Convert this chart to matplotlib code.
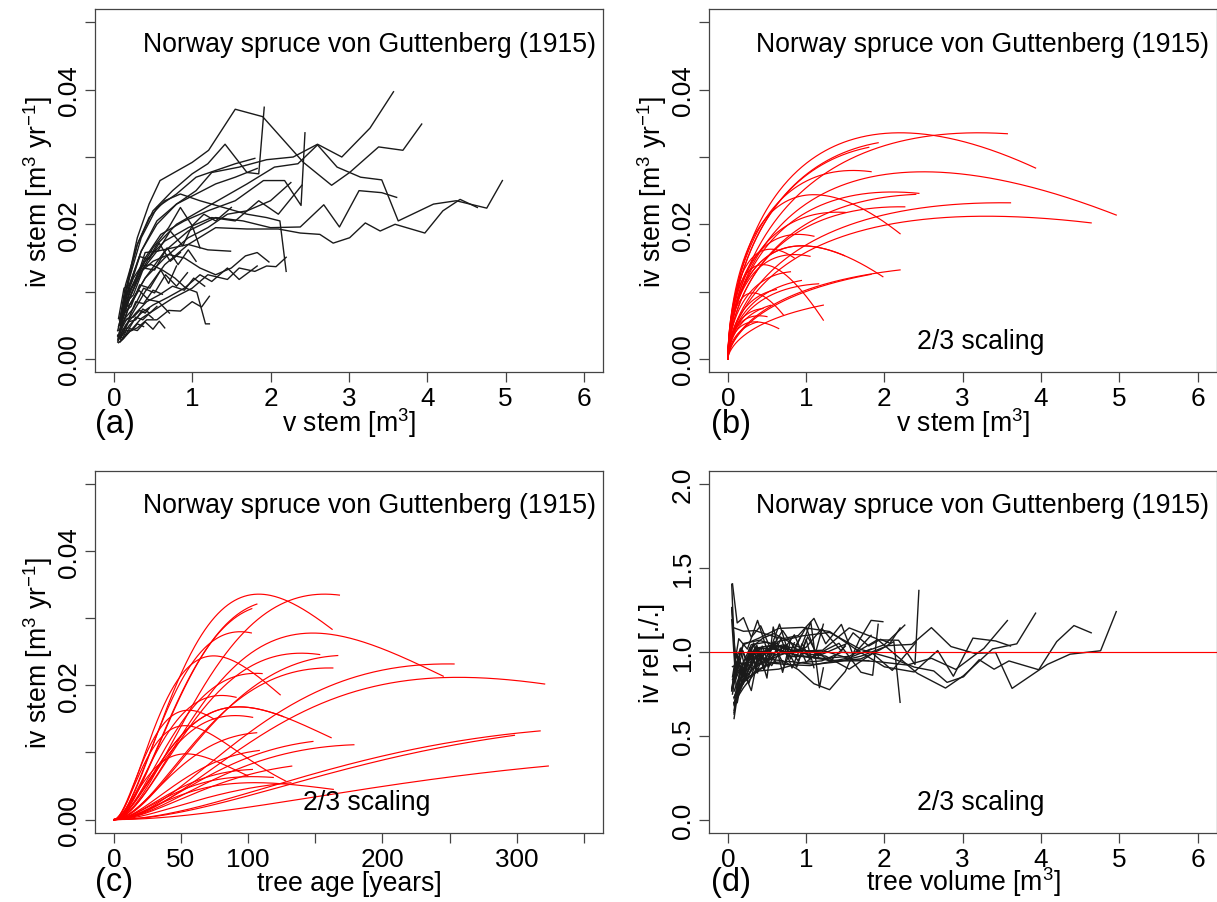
import numpy as np
import matplotlib
matplotlib.use("Agg")
import matplotlib.pyplot as plt

plt.rcParams['font.family'] = ['Liberation Sans', 'DejaVu Sans']
plt.rcParams['mathtext.fontset'] = 'custom'
plt.rcParams['mathtext.rm'] = 'Liberation Sans'
plt.rcParams['mathtext.it'] = 'Liberation Sans'

# observed stem volume [m3] and volume increment [m3/yr] per tree (panel a)
vol_obs = [
    [0.08, 0.2, 0.35, 0.55, 0.8, 1.05, 1.25, 1.6, 1.95, 2.29, 2.6, 2.91, 3.27, 3.57],
    [0.08, 0.15, 0.3, 0.45, 0.59, 1.0, 1.21, 1.55, 1.9, 2.42, 2.78, 3.01, 3.38, 3.69, 3.93],
    [0.08, 0.15, 0.3, 0.5, 0.75, 1.0, 1.2, 1.42, 1.7, 1.85, 1.92],
    [0.08, 0.2, 0.35, 0.55, 0.8, 1.05, 1.3, 1.55, 1.8],
    [0.08, 0.2, 0.35, 0.55, 0.8, 1.05, 1.3, 1.55, 1.83],
    [0.08, 0.2, 0.35, 0.55, 0.8, 1.1, 1.4, 1.7, 2.05, 2.35, 2.6, 2.85, 3.15, 3.42, 3.63, 4.08, 4.37, 4.76, 4.96],
    [0.08, 0.2, 0.4, 0.6, 0.9, 1.2, 1.55, 1.91, 2.18, 2.39, 2.44],
    [0.08, 0.2, 0.4, 0.65, 0.95, 1.25, 1.55, 1.85, 2.1, 2.4],
    [0.08, 0.2, 0.4, 0.65, 0.95, 1.3, 1.65, 2.0, 2.38, 2.68, 2.88, 3.13, 3.42, 3.61],
    [0.08, 0.2, 0.4, 0.65, 0.95, 1.2, 1.45, 1.7, 2.0, 2.26],
    [0.08, 0.2, 0.4, 0.65, 0.95, 1.3, 1.7, 2.1, 2.38, 2.63, 2.8, 3.01, 3.21, 3.4, 3.59, 3.97, 4.2, 4.42, 4.64],
    [0.08, 0.15, 0.3, 0.45, 0.65, 0.85, 1.1, 1.4, 1.7, 1.95, 2.12, 2.2],
    [0.08, 0.2, 0.35, 0.55, 0.75, 0.95, 1.2, 1.49],
    [0.08, 0.2, 0.35, 0.5, 0.7, 0.9, 1.1, 1.3, 1.5, 1.68, 1.83, 1.98],
    [0.08, 0.2, 0.35, 0.55, 0.75, 1.0, 1.2, 1.45, 1.6, 1.8, 1.95, 2.07, 2.2],
    [0.08, 0.2, 0.35, 0.5, 0.7, 0.9, 1.1, 1.25, 1.45, 1.6, 1.83],
    [0.08, 0.15, 0.25, 0.35, 0.48, 0.62, 0.78, 0.92, 1.06, 1.17, 1.22],
    [0.06, 0.12, 0.2, 0.3, 0.42, 0.55, 0.7, 0.85, 1.0, 1.12, 1.22],
    [0.06, 0.15, 0.28, 0.42, 0.58, 0.75, 0.9, 1.02, 1.16],
    [0.06, 0.14, 0.25, 0.38, 0.52, 0.66, 0.8, 0.94],
    [0.05, 0.12, 0.22, 0.32, 0.44, 0.57, 0.71],
    [0.05, 0.12, 0.2, 0.3, 0.4, 0.5, 0.58, 0.65],
    [0.05, 0.12, 0.2, 0.28, 0.37, 0.44, 0.5],
    [0.08, 0.18, 0.32, 0.5, 0.7, 0.85, 1.0, 1.15, 1.3, 1.5],
    [0.05, 0.1, 0.17, 0.25, 0.33, 0.4, 0.45],
    [0.06, 0.13, 0.22, 0.33, 0.46, 0.6, 0.7, 0.8],
    [0.05, 0.11, 0.19, 0.28, 0.38, 0.5, 0.62],
    [0.06, 0.14, 0.25, 0.38, 0.52, 0.68, 0.82, 0.95, 1.05],
    [0.06, 0.13, 0.22, 0.33, 0.45, 0.58, 0.72, 0.85],
    [0.05, 0.11, 0.19, 0.28, 0.37, 0.46, 0.55],
    [0.07, 0.15, 0.27, 0.4, 0.56, 0.72, 0.88, 1.0, 1.1],
    [0.05, 0.1, 0.16, 0.23, 0.3, 0.38],
]
iv_obs = [
    [0.005, 0.011, 0.016, 0.02, 0.023, 0.025, 0.0277, 0.0285, 0.0296, 0.030, 0.0319, 0.030, 0.0343, 0.0397],
    [0.0055, 0.01, 0.018, 0.023, 0.0265, 0.0292, 0.031, 0.0371, 0.036, 0.0292, 0.0258, 0.0277, 0.0315, 0.031, 0.0349],
    [0.005, 0.01, 0.017, 0.022, 0.025, 0.0275, 0.029, 0.0319, 0.0277, 0.0275, 0.0374],
    [0.0055, 0.012, 0.018, 0.0225, 0.0245, 0.027, 0.028, 0.029, 0.0298],
    [0.006, 0.011, 0.016, 0.0205, 0.023, 0.0245, 0.026, 0.027, 0.0283],
    [0.0045, 0.009, 0.013, 0.017, 0.02, 0.022, 0.024, 0.026, 0.0285, 0.029, 0.0318, 0.0285, 0.027, 0.0266, 0.0205, 0.023, 0.0235, 0.0224, 0.0265],
    [0.005, 0.01, 0.015, 0.0185, 0.0205, 0.022, 0.0235, 0.0265, 0.0265, 0.0228, 0.0336],
    [0.005, 0.01, 0.0145, 0.0175, 0.0195, 0.021, 0.0205, 0.0235, 0.0215, 0.0258],
    [0.004, 0.008, 0.012, 0.016, 0.019, 0.021, 0.0205, 0.0195, 0.0196, 0.0229, 0.0196, 0.025, 0.0247, 0.024],
    [0.004, 0.008, 0.012, 0.015, 0.018, 0.0195, 0.0215, 0.022, 0.0235, 0.0262],
    [0.003, 0.006, 0.01, 0.014, 0.017, 0.0195, 0.0193, 0.0193, 0.0187, 0.0185, 0.0172, 0.018, 0.0202, 0.019, 0.02, 0.0187, 0.022, 0.0237, 0.0225],
    [0.006, 0.011, 0.017, 0.021, 0.0235, 0.0245, 0.0235, 0.0225, 0.0215, 0.021, 0.0205, 0.013],
    [0.005, 0.009, 0.013, 0.016, 0.0165, 0.017, 0.0162, 0.016],
    [0.005, 0.009, 0.013, 0.0145, 0.0155, 0.015, 0.0135, 0.0125, 0.0135, 0.0153, 0.0158, 0.0144],
    [0.0025, 0.004, 0.006, 0.0075, 0.009, 0.0105, 0.0125, 0.0118, 0.0135, 0.013, 0.0138, 0.0137, 0.0151],
    [0.003, 0.005, 0.0068, 0.008, 0.0092, 0.0105, 0.0125, 0.0115, 0.0135, 0.0118, 0.0138],
    [0.005, 0.009, 0.012, 0.0138, 0.014, 0.0132, 0.012, 0.0105, 0.0099, 0.0052, 0.0052],
    [0.0024, 0.003, 0.0041, 0.0046, 0.0058, 0.0058, 0.0072, 0.0071, 0.0085, 0.0077, 0.0093],
    [0.003, 0.005, 0.0068, 0.0085, 0.0095, 0.0108, 0.0102, 0.012, 0.0108],
    [0.003, 0.006, 0.0075, 0.0105, 0.0098, 0.0125, 0.0108, 0.0128],
    [0.0042, 0.0075, 0.0082, 0.0102, 0.0088, 0.0085, 0.0068],
    [0.0035, 0.003, 0.0045, 0.0042, 0.0055, 0.0044, 0.0056, 0.0046],
    [0.0025, 0.0045, 0.0046, 0.0062, 0.0058, 0.0066, 0.006],
    [0.005, 0.009, 0.013, 0.0165, 0.0195, 0.0225, 0.0198, 0.0215, 0.0205, 0.0225],
    [0.0042, 0.0045, 0.006, 0.0062, 0.0072, 0.0068, 0.0075],
    [0.0035, 0.0068, 0.0078, 0.011, 0.0105, 0.0132, 0.0112, 0.0138],
    [0.0028, 0.0055, 0.006, 0.0085, 0.0082, 0.0102, 0.0096],
    [0.0048, 0.0082, 0.0095, 0.0135, 0.0132, 0.0165, 0.014, 0.0162, 0.0145],
    [0.006, 0.0105, 0.0112, 0.0152, 0.0148, 0.0172, 0.0145, 0.0158],
    [0.0035, 0.0036, 0.0055, 0.0058, 0.0074, 0.0068, 0.0078],
    [0.0058, 0.0095, 0.0112, 0.0158, 0.016, 0.019, 0.0168, 0.0198, 0.0165],
    [0.0033, 0.0028, 0.0042, 0.0042, 0.0052, 0.0048],
]

# fitted 2/3 scaling curve per tree: peak increment and volume at the peak
iv_peak = [0.0336, 0.0336, 0.0326, 0.032, 0.028, 0.0278, 0.0248, 0.0245, 0.0232, 0.0226,
           0.0212, 0.0244, 0.0168, 0.0168, 0.014, 0.0145, 0.014, 0.0098, 0.0112, 0.012,
           0.0098, 0.0055, 0.0064, 0.0218, 0.0075, 0.013, 0.0105, 0.0155, 0.0163, 0.0085,
           0.0185, 0.0058]
v_peak = [3.2, 2.2, 2.4, 2.3, 1.6, 2.5, 2.1, 2.6, 3.5, 2.2,
          3.3, 1.1, 0.95, 0.95, 3.5, 4.0, 0.45, 3.2, 1.3, 1.3,
          0.32, 0.35, 0.4, 1.4, 0.5, 0.9, 0.8, 0.85, 0.55, 0.9,
          0.9, 0.6]

title = "Norway spruce von Guttenberg (1915)"
FS = 19.2

fig = plt.figure(figsize=(12.17, 9.03), dpi=100)
W, H = 1217, 903


def box(l, t, r, b):
    return [l / W, 1 - b / H, (r - l) / W, (b - t) / H]


ax_a = fig.add_axes(box(95, 10, 602.7, 373.3))
ax_b = fig.add_axes(box(709, 10, 1216.5, 373.3))
ax_c = fig.add_axes(box(95, 471.7, 602.7, 834))
ax_d = fig.add_axes(box(709, 471.7, 1216.5, 834))


def coef(ivm, vp):
    return 3 * ivm / vp ** (2 / 3), 2 * ivm / vp


for v, iv, ivm, vp in zip(vol_obs, iv_obs, iv_peak, v_peak):
    v = np.array(v)
    iv = np.array(iv)
    a, b = coef(ivm, vp)
    ax_a.plot(v, iv, color='#1a1a1a', lw=1.0)
    # model curve vs volume
    vv = np.linspace(0, v[-1], 200)
    ax_b.plot(vv, a * vv ** (2 / 3) - b * vv, color='red', lw=0.85)
    # same model vs tree age: u = v^(1/3), du/dt = (a - b u)/3
    u_end = v[-1] ** (1 / 3)
    t_end = -3 / b * np.log(1 - u_end * b / a)
    tt = np.linspace(0, t_end, 200)
    uu = a / b * (1 - np.exp(-b * tt / 3))
    ax_c.plot(tt, a * uu ** 2 - b * uu ** 3, color='red', lw=0.85)
    # observed relative to model
    ax_d.plot(v, iv / (a * v ** (2 / 3) - b * v), color='#1a1a1a', lw=1.0)

ax_d.axhline(1.0, color='red', lw=0.85)

for ax in (ax_a, ax_b, ax_c, ax_d):
    for s in ax.spines.values():
        s.set_color('#444444')
        s.set_linewidth(0.9)
    ax.tick_params(direction='out', length=7, width=0.9, colors='#444444',
                   labelcolor='black', labelsize=FS - 0.4, pad=3)
    ax.text(0.986, 0.905, title, transform=ax.transAxes, ha='right', va='center',
            fontsize=FS)

yt = [0, 0.01, 0.02, 0.03, 0.04, 0.05]
ytl = ['0.00', '', '0.02', '', '0.04', '']
for ax in (ax_a, ax_b):
    ax.set_xlim(-0.24, 6.24)
    ax.set_xticks(range(7))
    ax.set_xticklabels([str(i) for i in range(7)])
for ax in (ax_a, ax_b, ax_c):
    ax.set_ylim(-0.002, 0.052)
    ax.set_yticks(yt)
    ax.set_yticklabels(ytl, rotation=90, va='center')

ax_c.set_xlim(-14, 364)
ax_c.set_xticks(range(0, 351, 50))
ax_c.set_xticklabels(['0', '50', '100', '', '200', '', '300', ''])

ax_d.set_xlim(-0.24, 6.24)
ax_d.set_ylim(-0.08, 2.08)
ax_d.set_xticks(range(7))
ax_d.set_xticklabels([str(i) for i in range(7)])
ax_d.set_yticks([0, 0.5, 1.0, 1.5, 2.0])
ax_d.set_yticklabels(['0.0', '0.5', '1.0', '1.5', '2.0'], rotation=90, va='center')

for ax in (ax_b, ax_c, ax_d):
    ax.text(0.536, 0.085, "2/3 scaling", transform=ax.transAxes, ha='center',
            va='center', fontsize=FS)

# axis titles and panel letters
ylab = r'iv stem [m$^3$ yr$^{-1}$]'
fig.text(38 / W, 1 - 191.5 / H, ylab, rotation=90, ha='center', va='center', fontsize=FS)
fig.text(652 / W, 1 - 191.5 / H, ylab, rotation=90, ha='center', va='center', fontsize=FS)
fig.text(38 / W, 1 - 653 / H, ylab, rotation=90, ha='center', va='center', fontsize=FS)
fig.text(652 / W, 1 - 653 / H, 'iv rel [./.]', rotation=90, ha='center', va='center', fontsize=FS)

fig.text(349 / W, 1 - 432 / H, r'v stem [m$^3$]', ha='center', va='baseline', fontsize=FS)
fig.text(963 / W, 1 - 432 / H, r'v stem [m$^3$]', ha='center', va='baseline', fontsize=FS)
fig.text(349 / W, 1 - 891 / H, 'tree age [years]', ha='center', va='baseline', fontsize=FS)
fig.text(963 / W, 1 - 891 / H, r'tree volume [m$^3$]', ha='center', va='baseline', fontsize=FS)

for lab, x, y in (('(a)', 95, 433), ('(b)', 711, 433), ('(c)', 95, 891), ('(d)', 711, 891)):
    fig.text(x / W, 1 - y / H, lab, ha='left', va='baseline', fontsize=23.5)

fig.savefig('out.png', dpi=100)
